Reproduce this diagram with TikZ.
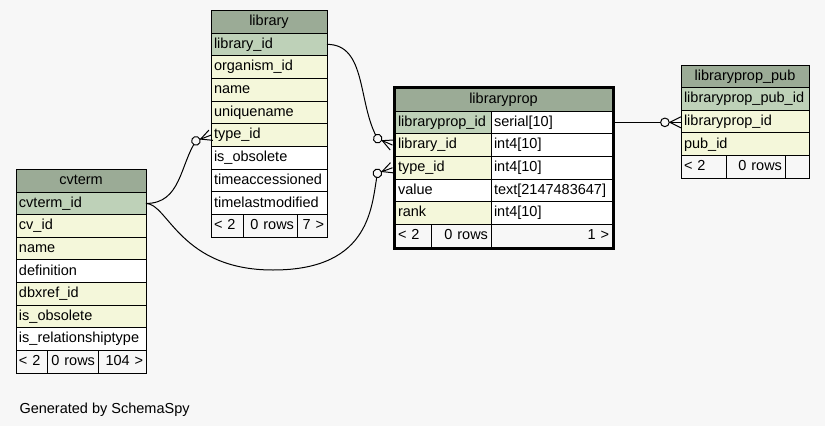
\documentclass[tikz,border=0pt]{standalone}
\usepackage{fontspec}
\setmainfont{Liberation Sans}
\usepackage{tikz}
\usetikzlibrary{
  calc,
  decorations.markings,
  positioning
}

\definecolor{paper}{HTML}{F7F7F7}
\definecolor{headgreen}{HTML}{9BAB96}
\definecolor{keygreen}{HTML}{BED1B8}
\definecolor{idxyellow}{HTML}{F4F7DA}

\tikzset{
  cell/.style={draw=black,line width=1pt,anchor=north west,inner xsep=3pt,inner ysep=0pt,
    outer sep=0pt,minimum height=22.7pt,text height=10.5pt,text depth=3pt,align=left,
    font=\fontsize{14.5pt}{17pt}\selectfont},
  tblhead/.style={cell,fill=headgreen,align=center},
  colpk/.style={cell,fill=keygreen},
  colidx/.style={cell,fill=idxyellow},
  colplain/.style={cell,fill=white},
  colfoot/.style={cell,fill=paper},
  conn/.style={line width=1pt},
  crowodot/.style={postaction={decorate},decoration={markings,mark=at position -0.1pt with {
    \draw[line width=1pt] (-11pt,0) -- (0,5.5pt) (-11pt,0) -- (0,-5.5pt);
    \draw[line width=1pt,fill=paper] (-16pt,0) circle (4.3pt);}}}
}

\begin{document}
\begin{tikzpicture}[x=1pt,y=-1pt]
  \fill[paper] (0,0) rectangle (825,426);

  % cvterm
  \node[tblhead,text width=124pt] at (16, 169.5) (Cvterm) {cvterm};
  \node[colpk,text width=124pt] at (16, 192.1) (Cvterm Id) {cvterm\_id};
  \node[colidx,text width=124pt] at (16, 214.7) (Cvterm Cv) {cv\_id};
  \node[colidx,text width=124pt] at (16, 237.3) (Cvterm Name) {name};
  \node[colplain,text width=124pt] at (16, 259.9) (Cvterm Definition) {definition};
  \node[colidx,text width=124pt] at (16, 282.5) (Cvterm Dbxref) {dbxref\_id};
  \node[colidx,text width=124pt] at (16, 305.1) (Cvterm Obsolete) {is\_obsolete};
  \node[colplain,text width=124pt] at (16, 327.7) (Cvterm Reltype) {is\_relationshiptype};
  \node[colfoot,text width=25pt] at (16, 350.3) (Cvterm Parents) {< 2};
  \node[colfoot,text width=45pt,align=right] at (47, 350.3) (Cvterm Rows) {0 rows};
  \node[colfoot,text width=42pt,align=right] at (98, 350.3) (Cvterm Children) {104 >};

  % library
  \node[tblhead,text width=110pt] at (211, 10.3) (Library) {library};
  \node[colpk,text width=110pt] at (211, 33.0) (Library Id) {library\_id};
  \node[colidx,text width=110pt] at (211, 55.7) (Library Organism) {organism\_id};
  \node[colidx,text width=110pt] at (211, 78.4) (Library Name) {name};
  \node[colidx,text width=110pt] at (211, 101.1) (Library Uniquename) {uniquename};
  \node[colidx,text width=110pt] at (211, 123.8) (Library Type) {type\_id};
  \node[colplain,text width=110pt] at (211, 146.5) (Library Obsolete) {is\_obsolete};
  \node[colplain,text width=110pt] at (211, 169.2) (Library Accessioned) {timeaccessioned};
  \node[colplain,text width=110pt] at (211, 191.9) (Library Modified) {timelastmodified};
  \node[colfoot,text width=26pt] at (211, 214.6) (Library Parents) {< 2};
  \node[colfoot,text width=48pt,align=right] at (243, 214.6) (Library Rows) {0 rows};
  \node[colfoot,text width=24pt,align=right] at (297, 214.6) (Library Children) {7 >};

  % libraryprop
  \node[tblhead,text width=211pt] at (395, 88.3) (Libraryprop) {libraryprop};
  \node[colpk,text width=90pt] at (395, 111.0) (Libraryprop Id) {libraryprop\_id};
  \node[colplain,text width=115pt] at (491, 111.0) (Libraryprop Id Type) {serial[10]};
  \node[colidx,text width=90pt] at (395, 133.7) (Libraryprop Library) {library\_id};
  \node[colplain,text width=115pt] at (491, 133.7) (Libraryprop Library Type) {int4[10]};
  \node[colidx,text width=90pt] at (395, 156.4) (Libraryprop Type) {type\_id};
  \node[colplain,text width=115pt] at (491, 156.4) (Libraryprop Type Type) {int4[10]};
  \node[colplain,text width=90pt] at (395, 179.1) (Libraryprop Value) {value};
  \node[colplain,text width=115pt] at (491, 179.1) (Libraryprop Value Type) {text[2147483647]};
  \node[colidx,text width=90pt] at (395, 201.8) (Libraryprop Rank) {rank};
  \node[colplain,text width=115pt] at (491, 201.8) (Libraryprop Rank Type) {int4[10]};
  \node[colfoot,text width=30pt] at (395, 224.5) (Libraryprop Parents) {< 2};
  \node[colfoot,text width=54pt,align=right] at (431, 224.5) (Libraryprop Rows) {0 rows};
  \node[colfoot,text width=115pt,align=right] at (491, 224.5) (Libraryprop Children) {1 >};
  \draw[line width=2.4pt]
  ($(Libraryprop.north west) + (-1.3, -1.3)$) rectangle ($(Libraryprop Children.south east) + (1.3, 1.3)$);

  % libraryprop_pub
  \node[tblhead,text width=122pt] at (681, 65.0) (Pub) {libraryprop\_pub};
  \node[colpk,text width=122pt] at (681, 87.65) (Pub Id) {libraryprop\_pub\_id};
  \node[colidx,text width=122pt] at (681, 110.3) (Pub Libraryprop) {libraryprop\_id};
  \node[colidx,text width=122pt] at (681, 132.95) (Pub Pub) {pub\_id};
  \node[colfoot,text width=39pt] at (681, 155.6) (Pub Parents) {< 2};
  \node[colfoot,text width=53pt,align=right] at (726, 155.6) (Pub Rows) {0 rows};
  \node[colfoot,text width=18pt] at (785, 155.6) (Pub Children) {};

  % relations
  \coordinate (Cvterm Loop) at (273, 270);
  \draw[conn,crowodot] (Library Id.east) .. controls +(40, 0) and +(-20, -35) ..
  ($(Libraryprop Library.west) + (-17.5, -6.5)$) -- ([xshift=-2.5pt]Libraryprop Library.west);
  \draw[conn,crowodot] (Cvterm Id.east) .. controls +(35, 0) and +(-16, 24) ..
  ($(Library Type.west) + (-15, 5.7)$) -- (Library Type.west);
  \draw[conn,crowodot] (Cvterm Id.east) .. controls +(22, 0) and +(-93, 0) .. (Cvterm Loop)
  .. controls +(100, 0) and +(-6, 30) .. ($(Libraryprop Type.west) + (-17.5, 5.5)$)
  -- ([xshift=-2.5pt]Libraryprop Type.west);
  \draw[conn,crowodot] (Libraryprop Id Type.east) -- (Libraryprop Id Type.east -| Pub Libraryprop.west);

  \node[anchor=base west,font=\fontsize{14.5pt}{17pt}\selectfont] at (16, 413.5) (Footer) {Generated by SchemaSpy};
\end{tikzpicture}
\end{document}
